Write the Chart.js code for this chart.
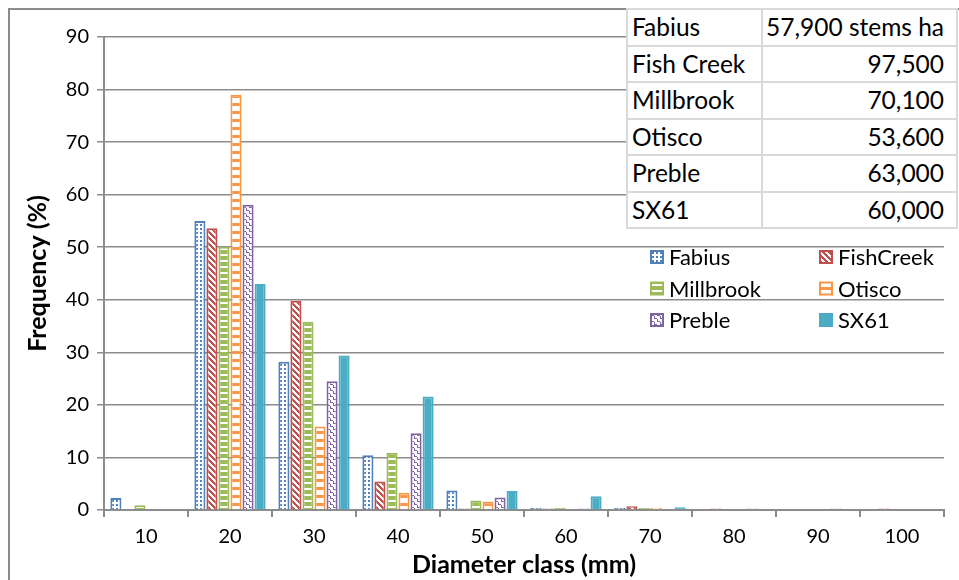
<!DOCTYPE html>
<html>
<head>
<meta charset="utf-8">
<script src="https://cdn.jsdelivr.net/npm/chart.js@4.4.0/dist/chart.umd.min.js"></script>
<style>
  body { margin: 0; background: #fff; }
  #wrap { position: relative; width: 959px; height: 580px; overflow: hidden; }
  #my-chart { position: absolute; left: 0; top: 0; }
  #stems { position: absolute; left: 626px; top: 8px; border-collapse: collapse; background: #fff;
           font-family: Lato, sans-serif; font-size: 24.5px; color: #000; white-space: nowrap; }
  #stems td { border: 2px solid #d9d9d9; height: 34.5px; padding: 0 4px; line-height: 1; }
  #stems td.site { width: 125px; min-width: 125px; text-align: left; }
  #stems td.val { text-align: right; padding-left: 3px; padding-right: 12px; }
</style>
</head>
<body>
<div id="wrap">
  <canvas id="my-chart" width="959" height="580"></canvas>
  <table id="stems"></table>
</div>
<script>
const diameterClasses = ['10', '20', '30', '40', '50', '60', '70', '80', '90', '100'];

const fabius    = [2.3, 55.0, 28.2, 10.4, 3.7, 0.4, 0.4, 0, 0, 0];
const fishCreek = [0, 53.6, 39.8, 5.4, 0.3, 0.3, 0.7, 0.3, 0, 0.3];
const millbrook = [0.9, 50.1, 35.8, 10.9, 1.8, 0.4, 0.4, 0, 0, 0];
const otisco    = [0, 79.0, 15.9, 3.3, 1.6, 0, 0.4, 0, 0, 0];
const preble    = [0, 58.1, 24.5, 14.6, 2.4, 0.3, 0, 0.3, 0.3, 0];
const sx61      = [0, 43.0, 29.4, 21.6, 3.6, 2.6, 0.5, 0, 0, 0];

const siteNames  = ['Fabius', 'Fish Creek', 'Millbrook', 'Otisco', 'Preble', 'SX61'];
const stemCounts = ['57,900 stems ha', '97,500', '70,100', '53,600', '63,000', '60,000'];

const yTicks = [0, 10, 20, 30, 40, 50, 60, 70, 80, 90];

// stems table, top right
const table = document.getElementById('stems');
siteNames.forEach((name, i) => {
  const tr = document.createElement('tr');
  tr.innerHTML = '<td class="site">' + name + '</td><td class="val">' + stemCounts[i] + '</td>';
  table.appendChild(tr);
});

// fill patterns like the excel ones
function makePattern(w, h, draw) {
  const c = document.createElement('canvas');
  c.width = w; c.height = h;
  const p = c.getContext('2d');
  draw(p);
  return document.getElementById('my-chart').getContext('2d').createPattern(c, 'repeat');
}

const blue = '#4F81BD', red = '#C0504D', green = '#9BBB59',
      orange = '#F79646', purple = '#8064A2', teal = '#4BACC6';

const dotsBlue = makePattern(4, 4, p => {
  p.fillStyle = '#fff'; p.fillRect(0, 0, 4, 4);
  p.fillStyle = blue; p.fillRect(0, 0, 2, 2);
});
const diagRed = makePattern(6, 6, p => {
  p.fillStyle = '#fff'; p.fillRect(0, 0, 6, 6);
  p.fillStyle = red;
  for (let i = 0; i < 6; i++) {
    p.fillRect(i, i, 3, 1);
    if (i > 3) p.fillRect(i - 6, i, 3, 1);
  }
  p.fillRect(0, 4, 1, 1); p.fillRect(0, 5, 2, 1);
});
const barsGreen = makePattern(12, 6, p => {
  p.fillStyle = green; p.fillRect(0, 0, 12, 6);
  p.fillStyle = '#fff'; p.fillRect(0, 2, 12, 2);
});
const gridOrange = makePattern(8, 8, p => {
  p.fillStyle = orange; p.fillRect(0, 0, 8, 8);
  p.fillStyle = '#fff'; p.fillRect(0, 2, 8, 5);
});
const zigPurple = makePattern(6, 6, p => {
  p.fillStyle = '#fff'; p.fillRect(0, 0, 6, 6);
  p.fillStyle = purple;
  p.fillRect(0, 0, 3, 1); p.fillRect(3, 1, 1, 2); p.fillRect(3, 3, 3, 1); p.fillRect(0, 4, 1, 2);
});

const series = [
  { label: 'Fabius',    data: fabius,    fill: dotsBlue,   line: blue },
  { label: 'FishCreek', data: fishCreek, fill: diagRed,    line: red },
  { label: 'Millbrook', data: millbrook, fill: barsGreen,  line: green },
  { label: 'Otisco',    data: otisco,    fill: gridOrange, line: orange },
  { label: 'Preble',    data: preble,    fill: zigPurple,  line: purple },
  { label: 'SX61',      data: sx61,      fill: teal,       line: teal }
];

const gridGray = '#8c8c8c';

// frame around the chart + legend inside plot area (2 columns)
const frameAndLegend = {
  id: 'frameAndLegend',
  beforeDraw(chart) {
    const c = chart.ctx;
    c.save();
    c.strokeStyle = gridGray;
    c.lineWidth = 2;
    c.strokeRect(9, 9, 1000, 1000);
    c.restore();
  },
  afterDraw(chart) {
    const c = chart.ctx;
    c.save();
    c.font = '22px Lato, sans-serif';
    c.textBaseline = 'middle';
    chart.data.datasets.forEach((ds, i) => {
      const x = i % 2 === 0 ? 651 : 820;
      const y = 257 + Math.floor(i / 2) * 31.5;
      c.fillStyle = ds.backgroundColor;
      c.fillRect(x, y - 6, 12, 12);
      c.strokeStyle = ds.borderColor;
      c.lineWidth = 2;
      c.strokeRect(x, y - 6, 12, 12);
      c.fillStyle = '#000';
      c.fillText(ds.label, x + 18, y + 1);
    });
    c.restore();
  }
};

const ctx = document.getElementById('my-chart').getContext('2d');
const chart = new Chart(ctx, {
  type: 'bar',
  data: {
    labels: diameterClasses,
    datasets: series.map(s => ({
      label: s.label,
      data: s.data,
      backgroundColor: s.fill,
      borderColor: s.line,
      borderWidth: 2,
      categoryPercentage: 0.86,
      barPercentage: 0.92
    }))
  },
  options: {
    responsive: false,
    animation: false,
    layout: { padding: { left: 8, right: 15, top: 37, bottom: 0 } },
    plugins: { legend: { display: false }, tooltip: { enabled: false } },
    scales: {
      x: {
        grid: { offset: true, drawOnChartArea: false, drawTicks: true, tickLength: 7, color: gridGray, lineWidth: 2 },
        border: { color: gridGray, width: 2 },
        ticks: { color: '#000', font: { family: 'Lato', size: 20 }, padding: 8 },
        title: { display: true, text: 'Diameter class (mm)', color: '#000', font: { family: 'Lato', size: 25, weight: 'bold' }, padding: { top: 0, bottom: 0 } },
        afterFit(scale) { scale.height = 70; }
      },
      y: {
        min: 0, max: 90,
        afterBuildTicks(scale) { scale.ticks = yTicks.map(v => ({ value: v })); },
        grid: { color: gridGray, lineWidth: 1.5, tickLength: 7 },
        border: { color: gridGray, width: 2 },
        ticks: { color: '#000', font: { family: 'Lato', size: 20 }, padding: 8 },
        title: { display: true, text: 'Frequency (%)', color: '#000', font: { family: 'Lato', size: 25, weight: 'bold' }, padding: { top: 15, bottom: 6 } },
        afterFit(scale) { scale.width = 96; }
      }
    }
  },
  plugins: [frameAndLegend]
});
</script>
</body>
</html>
